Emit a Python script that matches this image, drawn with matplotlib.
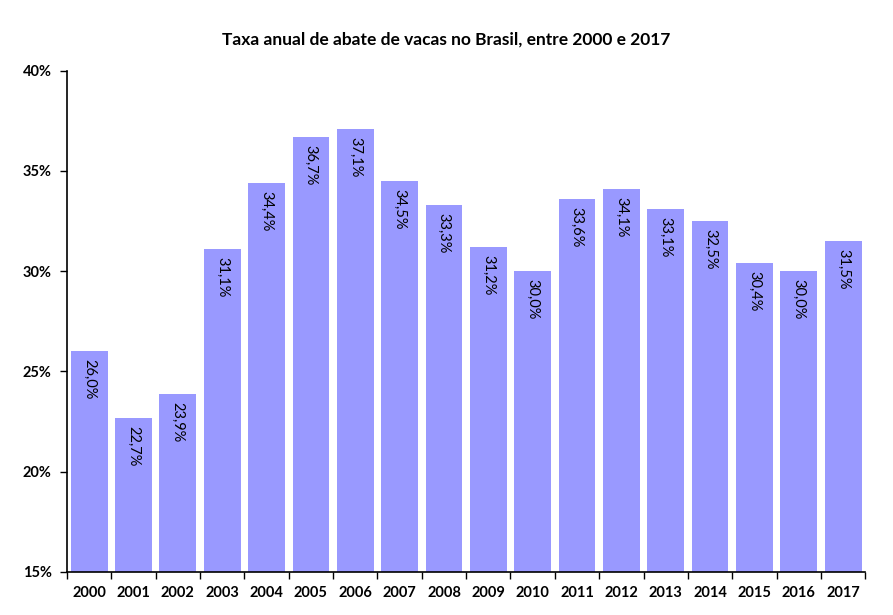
import matplotlib.pyplot as plt
import numpy as np
from matplotlib.ticker import FixedLocator

# data
years = [str(y) for y in range(2000, 2018)]
rates = [26.0, 22.7, 23.9, 31.1, 34.4, 36.7, 37.1, 34.5, 33.3,
         31.2, 30.0, 33.6, 34.1, 33.1, 32.5, 30.4, 30.0, 31.5]
y_ticks = [15, 20, 25, 30, 35, 40]

plt.rcParams['font.family'] = ['Lato', 'DejaVu Sans']

fig = plt.figure(figsize=(8.93, 6.15), dpi=100)
ax = fig.add_axes([0.075, 0.070, 0.894, 0.815])

x = np.arange(len(years))
ax.bar(x, [r - 15 for r in rates], bottom=15, width=0.83, color='#9999FF')

for xi, r in zip(x, rates):
    ax.text(xi, r - 0.4, f"{r:.1f}%".replace('.', ','), rotation=270,
            ha='center', va='top', fontsize=10.5, color='black')

ax.set_xlim(-0.5, len(years) - 0.5)
ax.set_ylim(15, 40)
ax.set_yticks(y_ticks)
ax.set_yticklabels([f"{t}%" for t in y_ticks], fontsize=10.5, fontweight='bold')
ax.set_xticks(x)
ax.set_xticklabels(years, fontsize=10.5, fontweight='bold')
ax.xaxis.set_minor_locator(FixedLocator(np.arange(-0.5, len(years), 1)))
ax.tick_params(axis='x', which='major', length=0, pad=10)
ax.tick_params(axis='x', which='minor', length=5, direction='out', width=1)
ax.tick_params(axis='y', length=5, direction='out', width=1, pad=6)

for s in ['top', 'right']:
    ax.spines[s].set_visible(False)
for s in ['left', 'bottom']:
    ax.spines[s].set_linewidth(1.2)
    ax.spines[s].set_color('black')

fig.text(0.5, 0.927, "Taxa anual de abate de vacas no Brasil, entre 2000 e 2017",
         ha='center', fontsize=12.5, fontweight='bold')

fig.savefig('out.png', dpi=100)
